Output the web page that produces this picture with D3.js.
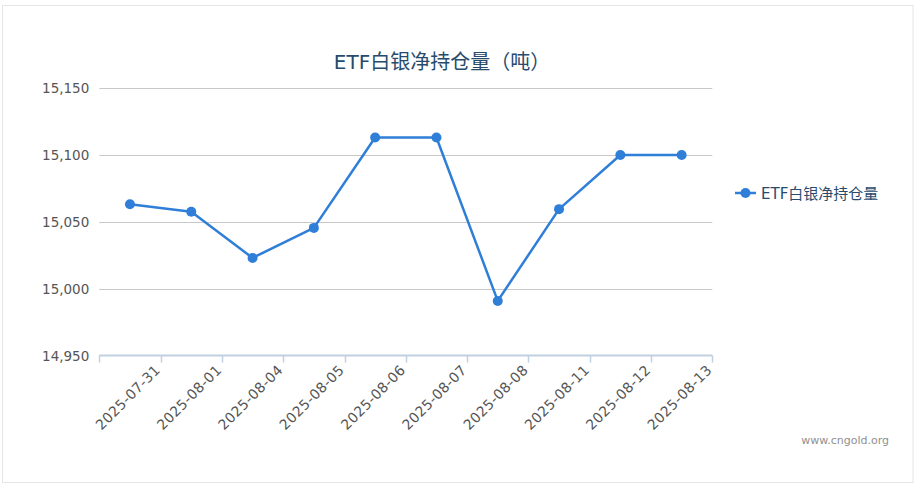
<!DOCTYPE html>
<html>
<head>
<meta charset="utf-8">
<script src="https://cdn.jsdelivr.net/npm/d3@7"></script>
<style>
  html, body { margin: 0; padding: 0; background: #fff; }
  #chart { width: 922px; height: 494px; }
  text { font-family: "DejaVu Sans", "Noto Sans CJK SC", sans-serif; }
</style>
</head>
<body>
<div id="chart"></div>
<script>
// ETF白银净持仓量 - line chart

const dates = ["2025-07-31", "2025-08-01", "2025-08-04", "2025-08-05", "2025-08-06",
               "2025-08-07", "2025-08-08", "2025-08-11", "2025-08-12", "2025-08-13"];
const holdings = [15063.3, 15057.7, 15023.2, 15045.6, 15113.1,
                  15113.1, 14991.1, 15059.6, 15100.0, 15100.0];
const yTicks = [14950, 15000, 15050, 15100, 15150];

const titleText = "ETF白银净持仓量（吨）";
const seriesName = "ETF白银净持仓量";
const credit = "www.cngold.org";

const lineColor = "#2f7ed8";

function draw() {
    const W = 922, H = 494;
    const plot = { left: 99.3, right: 712.3, top: 88, bottom: 356 };

    const svg = d3.select("#chart")
        .append("svg")
        .attr("width", W)
        .attr("height", H);

    // outer frame
    svg.append("rect")
        .attr("x", 2.5)
        .attr("y", 5.5)
        .attr("width", 910.5)
        .attr("height", 477)
        .attr("fill", "#fff")
        .attr("stroke", "#e6e6e6")
        .attr("stroke-width", 1);

    const x = d3.scaleBand()
        .domain(dates)
        .range([plot.left, plot.right]);

    const y = d3.scaleLinear()
        .domain([yTicks[0], yTicks[yTicks.length - 1]])
        .range([plot.bottom, plot.top]);

    // gridlines
    svg.append("g")
        .selectAll("line")
        .data(yTicks.slice(1))
        .enter()
        .append("line")
        .attr("x1", plot.left)
        .attr("x2", plot.right)
        .attr("y1", d => Math.round(y(d)) + 0.5)
        .attr("y2", d => Math.round(y(d)) + 0.5)
        .attr("stroke", "#c8c8c8")
        .attr("stroke-width", 1);

    // y labels
    svg.append("g")
        .selectAll("text")
        .data(yTicks)
        .enter()
        .append("text")
        .attr("x", plot.left - 10)
        .attr("y", d => y(d) + 5)
        .attr("text-anchor", "end")
        .attr("fill", "#555")
        .style("font-size", "13.5px")
        .text(d => d3.format(",")(d));

    // x axis line + ticks
    const axisY = Math.round(plot.bottom) - 0.5;
    svg.append("line")
        .attr("x1", plot.left)
        .attr("x2", plot.right)
        .attr("y1", axisY)
        .attr("y2", axisY)
        .attr("stroke", "#c0d0e0")
        .attr("stroke-width", 2);

    const tickPos = [plot.left].concat(dates.map(d => x(d) + x.bandwidth()));
    svg.append("g")
        .selectAll("line")
        .data(tickPos)
        .enter()
        .append("line")
        .attr("x1", d => Math.round(d) + 0.5)
        .attr("x2", d => Math.round(d) + 0.5)
        .attr("y1", axisY)
        .attr("y2", axisY + 7)
        .attr("stroke", "#c0d0e0")
        .attr("stroke-width", 1.5);

    // x labels rotated
    svg.append("g")
        .selectAll("text")
        .data(dates)
        .enter()
        .append("text")
        .attr("transform", d => `translate(${x(d) + x.bandwidth() + 0.5},${plot.bottom + 15}) rotate(-45)`)
        .attr("text-anchor", "end")
        .attr("fill", "#555")
        .style("font-size", "14px")
        .style("letter-spacing", "0.3px")
        .text(d => d);

    // line
    const line = d3.line()
        .x((d, i) => x(dates[i]) + x.bandwidth() / 2)
        .y(d => y(d));

    svg.append("path")
        .datum(holdings)
        .attr("d", line)
        .attr("fill", "none")
        .attr("stroke", lineColor)
        .attr("stroke-width", 2.5)
        .attr("stroke-linejoin", "round");

    svg.append("g")
        .selectAll("circle")
        .data(holdings)
        .enter()
        .append("circle")
        .attr("cx", (d, i) => x(dates[i]) + x.bandwidth() / 2)
        .attr("cy", d => y(d))
        .attr("r", 5)
        .attr("fill", lineColor);

    // title
    svg.append("text")
        .attr("x", 442)
        .attr("y", 69)
        .attr("text-anchor", "middle")
        .attr("fill", "#274b6d")
        .style("font-size", "20px")
        .text(titleText);

    // legend
    const legend = svg.append("g")
        .attr("transform", "translate(735,193)");
    legend.append("line")
        .attr("x1", 0)
        .attr("x2", 21)
        .attr("y1", 0)
        .attr("y2", 0)
        .attr("stroke", lineColor)
        .attr("stroke-width", 2.5);
    legend.append("circle")
        .attr("cx", 10.5)
        .attr("cy", 0)
        .attr("r", 5)
        .attr("fill", lineColor);
    legend.append("text")
        .attr("x", 26)
        .attr("y", 5.5)
        .attr("fill", "#274b6d")
        .style("font-size", "15px")
        .text(seriesName);

    // credit
    svg.append("text")
        .attr("x", 889)
        .attr("y", 444)
        .attr("text-anchor", "end")
        .attr("fill", "#909090")
        .style("font-size", "11px")
        .text(credit);
}

window.addEventListener('DOMContentLoaded', draw);
</script>
</body>
</html>
